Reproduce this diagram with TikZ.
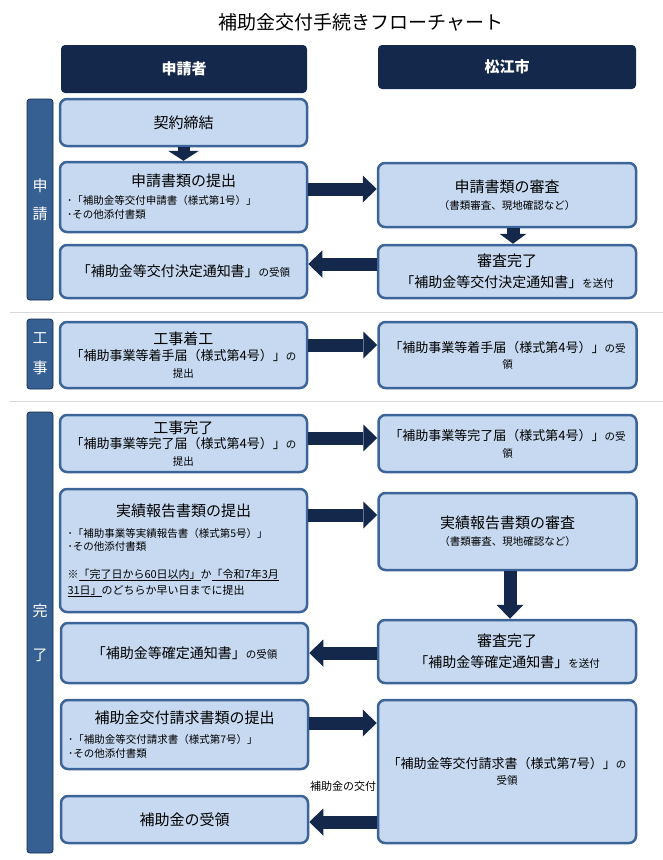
\documentclass[tikz,border=0pt]{standalone}
\usepackage{fontspec}
\setmainfont{Noto Sans CJK JP}
\usetikzlibrary{arrows.meta,calc,positioning}
\definecolor{navy}{HTML}{14284B}
\definecolor{barblue}{HTML}{376092}
\definecolor{boxfill}{HTML}{C6D9F1}
\definecolor{boxline}{HTML}{3D6499}
\newcommand\fttl{\fontsize{15}{18}\selectfont}
\newcommand\fbrk{\fontsize{14}{17}\selectfont}
\newcommand\fsub{\fontsize{13}{16}\selectfont}
\newcommand\fsml{\fontsize{10.5}{12}\selectfont}
\newcommand\fnote{\fontsize{11}{12}\selectfont}

\begin{document}
\begin{tikzpicture}[x=1pt,y=-1pt,
  head/.style={fill=navy,rounded corners=4pt,text=white,font=\bfseries\fontsize{15}{18}\selectfont,minimum height=48,minimum width=246},
  sidebar/.style={fill=barblue,draw=navy,line width=0.8pt,rounded corners=3pt,minimum width=26,inner sep=0pt,text=white,align=center,font=\fontsize{15}{28}\selectfont},
  stepbox/.style={fill=boxfill,draw=boxline,line width=2.5pt,rounded corners=7pt,align=center,inner sep=2pt,font=\fontsize{10}{16}\selectfont},
  lbox/.style={stepbox,minimum width=247},
  rbox/.style={stepbox,minimum width=258},
  flow/.style={navy,line width=13pt,-{Triangle[length=14pt,width=27pt,line width=0pt]}},
  sepline/.style={gray!30,line width=1pt}]
\useasboundingbox (0,0) rectangle (663,860);

\node (title) at (361,22) {\fontsize{19}{21}\selectfont 補助金交付手続きフローチャート};

\node[head] (hdA) at (184,69) {申請者};
\node[head,minimum width=258,minimum height=44] (hdB) at (507,67) {松江市};

\node[sidebar,minimum height=201] (barA) at (40,199.5) {申\\請};
\node[sidebar,minimum height=70] (barB) at (40,354) {工\\[2pt]事};
\node[sidebar,minimum height=441] (barC) at (40,632.5) {完\\[16pt]了};

\foreach \y in {312.5,401.5}
  \draw[sepline] (10,\y) -- (663,\y);

\node[lbox,minimum height=47] (keiyaku) at (183.5,122.5) {\fttl 契約締結};
\node[lbox,minimum height=70,align=left] (sinsei) at (183.5,197)
  {\makebox[233pt]{\fttl 申請書類の提出}\\[2pt]
   \fsml ･「補助金等交付申請書（様式第1号）」\\[-2pt]
   \fsml ･その他添付書類};
\node[rbox,minimum height=64] (sinsa) at (507,195)
  {\fttl 申請書類の審査\\[1pt] \fsml （書類審査、現地確認など）};
\node[rbox,minimum height=53] (ketteiB) at (507,271.5)
  {\fttl 審査完了\\[5pt] \fbrk 「補助金等交付決定通知書」{\fsml を送付}};
\node[lbox,minimum height=53] (ketteiA) at (183.5,271.5)
  {\fbrk 「補助金等交付決定通知書」{\fsml の受領}};

\node[lbox,minimum height=66] (chakoA) at (183.5,355)
  {\fttl 工事着工\\ \fsub 「補助事業等着手届（様式第4号）」{\fsml の}\\[1pt] \fsml 提出};
\node[rbox,minimum height=66] (chakoB) at (507.5,355)
  {\fsub 「補助事業等着手届（様式第4号）」{\fsml の受}\\ \fsml 領};

\node[lbox,minimum height=57] (kankoA) at (183.5,443.5)
  {\fttl 工事完了\\[-1pt] \fsub 「補助事業等完了届（様式第4号）」{\fsml の}\\[1pt] \fsml 提出};
\node[rbox,minimum height=57] (kankoB) at (507.5,443.5)
  {\fsub 「補助事業等完了届（様式第4号）」{\fsml の受}\\[1pt] \fsml 領};

\node[lbox,minimum height=123,align=left] (jissekiA) at (183.5,550.5)
  {\makebox[232pt]{\fttl 実績報告書類の提出}\\[5pt]
   \fsml ･「補助事業等実績報告書（様式第5号）」\\[-3pt]
   \fsml ･その他添付書類\\[12pt]
   \fnote ※\underline{「完了日から60日以内」}か\underline{「令和7年3月}\\[0pt]
   \fnote \underline{31日」}のどちらか早い日までに提出};
\node[rbox,minimum height=77] (jissekiB) at (507.5,531.5)
  {\fttl 実績報告書類の審査\\[1pt] \fsml （書類審査、現地確認など）};

\node[rbox,minimum height=63] (kakuteiB) at (507,651.5)
  {\fttl 審査完了\\[5pt] \fbrk 「補助金等確定通知書」{\fsml を送付}};
\node[lbox,minimum height=60] (kakuteiA) at (184.5,653)
  {\fbrk 「補助金等確定通知書」{\fsml の受領}};

\node[lbox,minimum height=69,align=left] (seikyuA) at (184.5,734.5)
  {\makebox[233pt]{\fttl 補助金交付請求書類の提出}\\[4pt]
   \fsml ･「補助金等交付請求書（様式第7号）」\\[-2pt]
   \fsml ･その他添付書類};
\node[rbox,minimum height=143] (seikyuB) at (507,771.5)
  {\fsub 「補助金等交付請求書（様式第7号）」{\fsml の}\\ \fsml 受領};
\node[lbox,minimum height=47] (uketori) at (184.5,819.5) {\fttl 補助金の受領};

\draw[flow,line width=12pt,-{Triangle[length=10pt,width=31pt,line width=0pt]}] (keiyaku) -- (sinsei);
\draw[flow] (sinsei.east |- 0,189) -- (sinsa.west |- 0,189);
\draw[flow,-{Triangle[length=10pt,width=27pt,line width=0pt]}] (sinsa.south -| 513,0) -- (ketteiB.north -| 513,0);
\draw[flow] (ketteiB.west |- 0,264) -- (ketteiA.east |- 0,264);
\draw[flow] (chakoA.east |- 0,345) -- (chakoB.west |- 0,345);
\draw[flow] (kankoA.east |- 0,438) -- (kankoB.west |- 0,438);
\draw[flow] (jissekiA.east |- 0,515) -- (jissekiB.west |- 0,515);
\draw[flow] (jissekiB.south -| 510,0) -- (kakuteiB.north -| 510,0);
\draw[flow] (kakuteiB.west |- 0,653) -- (kakuteiA.east |- 0,653);
\draw[flow] (seikyuA.east |- 0,723) -- (seikyuB.west |- 0,723);
\draw[flow] (seikyuB.west |- 0,822) -- (uketori.east |- 0,822)
  node[midway,above=21pt,text=black,font=\fontsize{11}{13}\selectfont] (kofu) {補助金の交付};
\end{tikzpicture}
\end{document}
